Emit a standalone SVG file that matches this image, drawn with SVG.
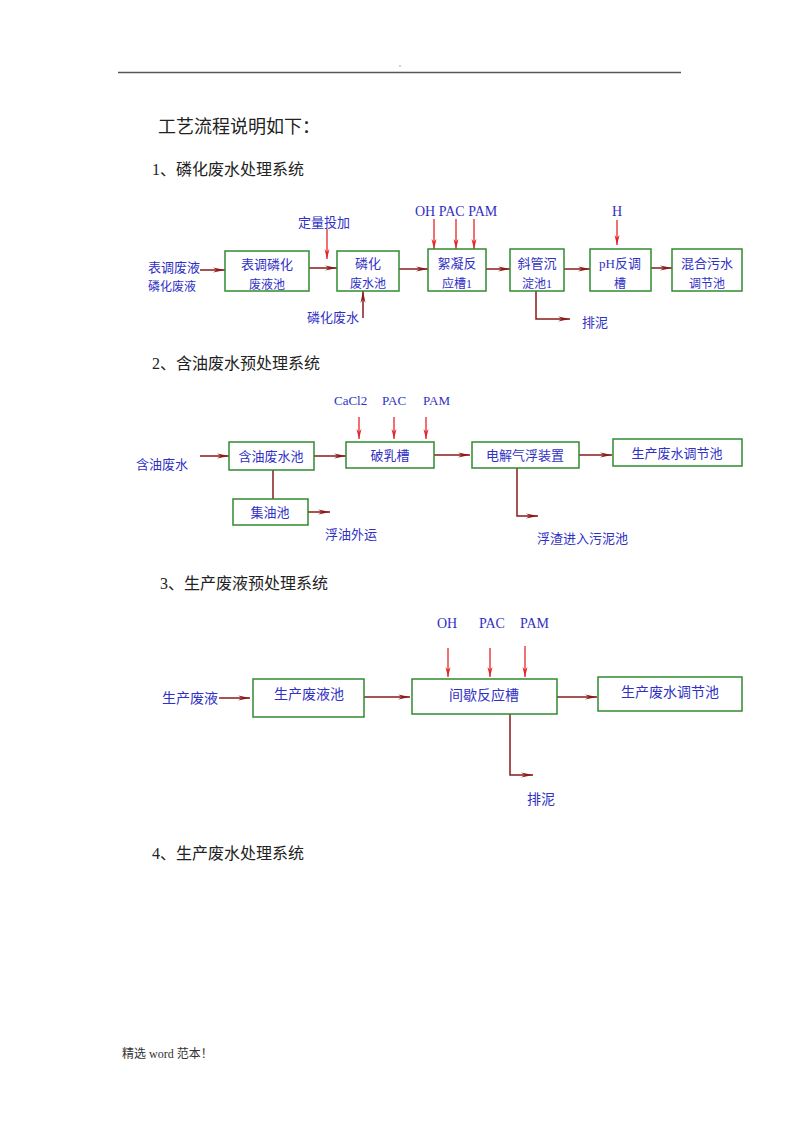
<svg xmlns="http://www.w3.org/2000/svg" width="800" height="1132" viewBox="0 0 800 1132">
<style>
.bx{fill:#fff;stroke:#2f8a2f;stroke-width:1.5}
.t{font-family:"Liberation Serif","Noto Sans CJK SC",serif;fill:#3030c4;font-size:13px}
.tm{text-anchor:middle}
.h{font-family:"Liberation Serif","Noto Sans CJK SC",serif;fill:#222;font-size:16px}
.f{stroke:#8b1a1a;stroke-width:1.5;fill:none}
.r{stroke:#e3262b;stroke-width:1.3;fill:none}
</style>
<defs>
<marker id="ad" markerWidth="12" markerHeight="6" refX="12" refY="3" orient="auto" markerUnits="userSpaceOnUse"><path d="M0,0.5 L12,3 L0,5.5 L4,3 z" fill="#8b1a1a"/></marker>
<marker id="ar" markerWidth="10" markerHeight="6" refX="10" refY="3" orient="auto" markerUnits="userSpaceOnUse"><path d="M0,0.5 L10,3 L0,5.5 L3,3 z" fill="#e3262b"/></marker>
</defs>
<rect width="800" height="1132" fill="#fff"/>
<g id="header">
<line x1="118" y1="72.5" x2="681" y2="72.5" stroke="#555" stroke-width="1.5"/>
<circle cx="400" cy="66" r="0.7" fill="#888"/>
<text x="158" y="133" class="h" style="font-size:18px">工艺流程说明如下：</text>
<text x="152" y="175" class="h">1、磷化废水处理系统</text>
<text x="152" y="369" class="h">2、含油废水预处理系统</text>
<text x="160" y="589" class="h">3、生产废液预处理系统</text>
<text x="152" y="859" class="h">4、生产废水处理系统</text>
<text x="122" y="1058" class="h" style="font-size:12px;fill:#333">精选 word 范本！</text>
</g>
<g id="connectors">
<line x1="200" y1="270" x2="225" y2="270" class="f" marker-end="url(#ad)"/>
<line x1="309" y1="268" x2="337" y2="268" class="f" marker-end="url(#ad)"/>
<line x1="327" y1="229" x2="327" y2="259" class="r" marker-end="url(#ar)"/>
<line x1="363" y1="318" x2="363" y2="291" class="f" marker-end="url(#ad)"/>
<line x1="399" y1="269" x2="428" y2="269" class="f" marker-end="url(#ad)"/>
<line x1="434" y1="219" x2="434" y2="249" class="r" marker-end="url(#ar)"/>
<line x1="456" y1="219" x2="456" y2="249" class="r" marker-end="url(#ar)"/>
<line x1="474" y1="219" x2="474" y2="249" class="r" marker-end="url(#ar)"/>
<line x1="486" y1="269" x2="510" y2="269" class="f" marker-end="url(#ad)"/>
<polyline points="536,291 536,319 570,319" class="f" marker-end="url(#ad)"/>
<line x1="564" y1="269" x2="590" y2="269" class="f" marker-end="url(#ad)"/>
<line x1="617" y1="220" x2="617" y2="245" class="r" marker-end="url(#ar)"/>
<line x1="651" y1="268" x2="672" y2="268" class="f" marker-end="url(#ad)"/>
<line x1="200" y1="456" x2="229" y2="456" class="f" marker-end="url(#ad)"/>
<line x1="314" y1="456" x2="346" y2="456" class="f" marker-end="url(#ad)"/>
<line x1="359" y1="417" x2="359" y2="439" class="r" marker-end="url(#ar)"/>
<line x1="394" y1="417" x2="394" y2="439" class="r" marker-end="url(#ar)"/>
<line x1="426" y1="417" x2="426" y2="439" class="r" marker-end="url(#ar)"/>
<line x1="273" y1="470" x2="273" y2="499" class="f"/>
<line x1="308" y1="512" x2="330" y2="512" class="f" marker-end="url(#ad)"/>
<line x1="434" y1="455" x2="470" y2="455" class="f" marker-end="url(#ad)"/>
<line x1="579" y1="455" x2="612" y2="455" class="f" marker-end="url(#ad)"/>
<polyline points="517,468 517,516 538,516" class="f" marker-end="url(#ad)"/>
<line x1="219" y1="698" x2="250" y2="698" class="f" marker-end="url(#ad)"/>
<line x1="364" y1="697" x2="410" y2="697" class="f" marker-end="url(#ad)"/>
<line x1="448" y1="648" x2="448" y2="677" class="r" marker-end="url(#ar)"/>
<line x1="490" y1="648" x2="490" y2="677" class="r" marker-end="url(#ar)"/>
<line x1="525" y1="646" x2="525" y2="677" class="r" marker-end="url(#ar)"/>
<line x1="557" y1="697" x2="597" y2="697" class="f" marker-end="url(#ad)"/>
<polyline points="510,714 510,775 533,775" class="f" marker-end="url(#ad)"/>
</g>
<g id="labels">
<text x="148" y="272" class="t">表调废液</text>
<text x="148" y="291" class="t" style="font-size:12px">磷化废液</text>
<text x="298" y="227" class="t">定量投加</text>
<text x="307" y="322" class="t">磷化废水</text>
<text x="415" y="216" class="t" style="font-size:14px">OH PAC PAM</text>
<text x="582" y="327" class="t">排泥</text>
<text x="617" y="216" class="t tm" style="font-size:14px">H</text>
<text x="136" y="469" class="t">含油废水</text>
<text x="334" y="405" class="t">CaCl2</text>
<text x="382" y="405" class="t">PAC</text>
<text x="423" y="405" class="t">PAM</text>
<text x="325" y="539" class="t">浮油外运</text>
<text x="537" y="543" class="t">浮渣进入污泥池</text>
<text x="162" y="703" class="t" style="font-size:14px">生产废液</text>
<text x="437" y="628" class="t" style="font-size:14px">OH</text>
<text x="479" y="628" class="t" style="font-size:14px">PAC</text>
<text x="520" y="628" class="t" style="font-size:14px">PAM</text>
<text x="527" y="804" class="t" style="font-size:14px">排泥</text>
</g>
<g id="n1"><rect x="225" y="251" width="84" height="40" class="bx"/><text x="267" y="269" class="t tm">表调磷化</text><text x="267" y="289" class="t tm" style="font-size:12px">废液池</text></g>
<g id="n2"><rect x="337" y="251" width="62" height="40" class="bx"/><text x="368" y="268" class="t tm">磷化</text><text x="368" y="288" class="t tm" style="font-size:12px">废水池</text></g>
<g id="n3"><rect x="428" y="249" width="58" height="42" class="bx"/><text x="457" y="268" class="t tm">絮凝反</text><text x="457" y="288" class="t tm" style="font-size:12px">应槽1</text></g>
<g id="n4"><rect x="510" y="249" width="54" height="42" class="bx"/><text x="537" y="268" class="t tm">斜管沉</text><text x="537" y="288" class="t tm" style="font-size:12px">淀池1</text></g>
<g id="n5"><rect x="590" y="249" width="61" height="42" class="bx"/><text x="620" y="268" class="t tm">pH反调</text><text x="620" y="288" class="t tm" style="font-size:12px">槽</text></g>
<g id="n6"><rect x="672" y="249" width="70" height="42" class="bx"/><text x="707" y="268" class="t tm">混合污水</text><text x="707" y="288" class="t tm" style="font-size:12px">调节池</text></g>
<g id="n7"><rect x="229" y="442" width="85" height="28" class="bx"/><text x="271" y="461" class="t tm">含油废水池</text></g>
<g id="n8"><rect x="346" y="442" width="88" height="26" class="bx"/><text x="390" y="460" class="t tm">破乳槽</text></g>
<g id="n9"><rect x="233" y="499" width="75" height="26" class="bx"/><text x="270" y="517" class="t tm">集油池</text></g>
<g id="n10"><rect x="472" y="442" width="107" height="26" class="bx"/><text x="525" y="460" class="t tm">电解气浮装置</text></g>
<g id="n11"><rect x="613" y="439" width="129" height="27" class="bx"/><text x="677" y="458" class="t tm">生产废水调节池</text></g>
<g id="n12"><rect x="253" y="679" width="111" height="38" class="bx"/><text x="309" y="699" class="t tm" style="font-size:14px">生产废液池</text></g>
<g id="n13"><rect x="412" y="679" width="145" height="35" class="bx"/><text x="484" y="700" class="t tm" style="font-size:14px">间歇反应槽</text></g>
<g id="n14"><rect x="598" y="677" width="144" height="34" class="bx"/><text x="670" y="697" class="t tm" style="font-size:14px">生产废水调节池</text></g>
</svg>
